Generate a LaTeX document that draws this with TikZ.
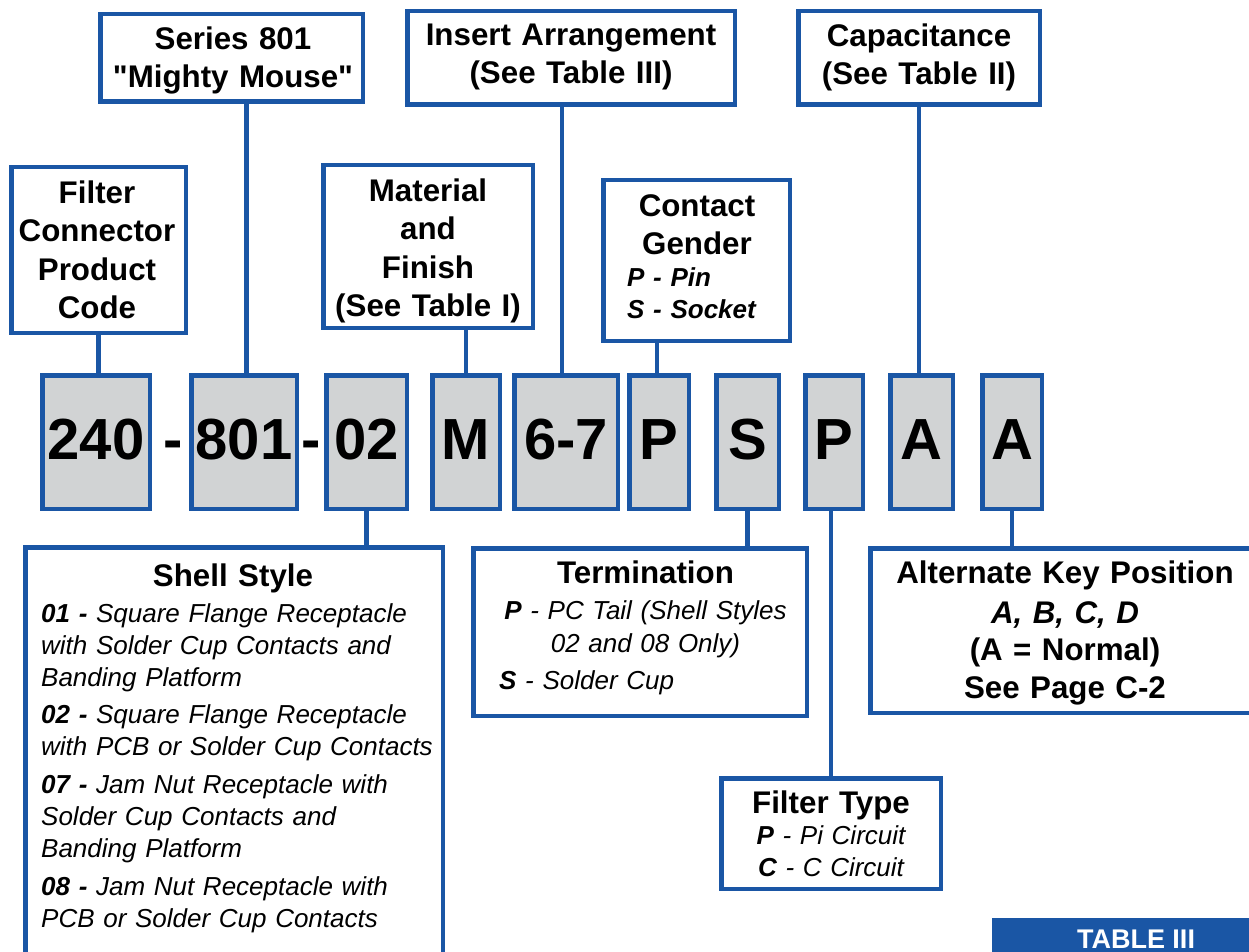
\documentclass[tikz,border=0pt]{standalone}
\usepackage{fontspec}
\setmainfont{Liberation Sans}
\newfontfamily\plainq{Liberation Sans}
\definecolor{myblue}{HTML}{1A56A5}
\definecolor{codegray}{HTML}{D1D3D4}
\begin{document}
\begin{tikzpicture}[x=1pt,y=-1pt,
  bbox/.style={draw=myblue, line width=4.5pt, fill=white, inner sep=0pt, outer sep=0pt},
  code/.style={draw=myblue, line width=4.5pt, fill=codegray, inner sep=0pt, outer sep=0pt,
    minimum height=133.5pt, font=\fontsize{58}{60}\selectfont\bfseries, text height=42pt, text depth=8pt},
  dashtxt/.style={inner sep=0pt, anchor=base, font=\fontsize{58}{60}\selectfont\bfseries},
  link/.style={draw=myblue, line width=4.5pt},
  ttl/.style={font=\fontsize{31.3}{38.5}\selectfont\bfseries, align=center, text width=420pt, inner sep=0pt, anchor=base},
  itm/.style={font=\fontsize{26}{32}\selectfont\itshape, align=left, text width=420pt, inner sep=0pt, anchor=base west},
  itmc/.style={font=\fontsize{26}{32}\selectfont\itshape, align=center, text width=420pt, inner sep=0pt, anchor=base},
]
\clip (0,0) rectangle (1249,952);
\fill[white] (0,0) rectangle (1249,952);

% ---- code boxes ----
\node[code, minimum width=107.5pt] (c240) at (96,442) {240};
\node[code, minimum width=105.5pt] (c801) at (244,442) {801};
\node[code, minimum width=80.5pt]  (c02)  at (366.5,442) {02};
\node[code, minimum width=67.5pt]  (cM)   at (466,442) {M};
\node[code, minimum width=103.5pt] (c67)  at (566,442) {6-7};
\node[code, minimum width=59.5pt]  (cP)   at (659,442) {P};
\node[code, minimum width=62.5pt]  (cS)   at (747.5,442) {S};
\node[code, minimum width=57.5pt]  (cP2)  at (834,442) {P};
\node[code, minimum width=62.5pt]  (cA)   at (921.5,442) {A};
\node[code, minimum width=59.5pt]  (cA2)  at (1012,442) {A};
\node[dashtxt] (d1) at (173.5,459) {-};
\node[dashtxt] (d2) at (311,459) {-};

% ---- top boxes ----
\node[bbox, minimum width=262.5pt, minimum height=87.5pt]  (series)   at (231.5,58) {};
\node[bbox, minimum width=327.5pt, minimum height=93.5pt]  (insert)   at (571,58) {};
\node[bbox, minimum width=241.5pt, minimum height=93.5pt]  (capac)    at (919,58) {};
\node[bbox, minimum width=174.5pt, minimum height=165.5pt] (product)  at (98.5,250) {};
\node[bbox, minimum width=209.5pt, minimum height=162.5pt] (material) at (428,246.5) {};
\node[bbox, minimum width=186.5pt, minimum height=160.5pt] (gender)   at (696.5,260.5) {};

\node[ttl] (seriesT) at (233,49.3) {Series 801\\{\plainq\bfseries "}Mighty Mouse{\plainq\bfseries "}};
\node[ttl] (insertT) at (571,45.3) {Insert Arrangement\\(See Table III)};
\node[ttl] (capacT) at (919,46.3) {Capacitance\\(See Table II)};
\node[ttl] (productT) at (97,203.3) {Filter\\Connector\\Product\\Code};
\node[ttl] (materialT) at (428,201.3) {Material\\and\\Finish\\(See Table I)};
\node[ttl, font=\fontsize{31.3}{38}\selectfont\bfseries] (genderT) at (697,216.3) {Contact\\Gender};
\node[itm, font=\fontsize{26}{32}\selectfont\bfseries\itshape] (genderI) at (627,286) {P - Pin\\S - Socket};

% ---- bottom boxes ----
\node[bbox, minimum width=417.5pt, minimum height=452.75pt] (shell) at (234,773.625) {};
\node[bbox, minimum width=333.5pt, minimum height=167.5pt] (term) at (640,632) {};
\node[bbox, minimum width=219.5pt, minimum height=110.5pt] (filter) at (831,833.5) {};
\node[bbox, minimum width=429.75pt, minimum height=164.5pt] (alt) at (1085.125,630.5) {};

\node[ttl] (shellT) at (233,586.3) {Shell Style};
\node[itm] (shellI) at (41,622.5) {%
{\bfseries 01 -} Square Flange Receptacle\\with Solder Cup Contacts and\\Banding Platform\\[5pt]
{\bfseries 02 -} Square Flange Receptacle\\with PCB or Solder Cup Contacts\\[6pt]
{\bfseries 07 -} Jam Nut Receptacle with\\Solder Cup Contacts and\\Banding Platform\\[6pt]
{\bfseries 08 -} Jam Nut Receptacle with\\PCB or Solder Cup Contacts};

\node[ttl] (termT) at (645.5,583.3) {Termination};
\node[itmc, font=\fontsize{26}{33}\selectfont\itshape] (termA) at (645.5,619.5) {{\bfseries P} - PC Tail (Shell Styles\\02 and 08 Only)};
\node[itm] (termB) at (499,689.5) {{\bfseries S} - Solder Cup};

\node[ttl] (filterT) at (831,813.3) {Filter Type};
\node[itmc] (filterI) at (831,844.5) {{\bfseries P} - Pi Circuit\\{\bfseries C} - C Circuit};

\node[ttl, font=\fontsize{31.3}{38}\selectfont\bfseries] (altT) at (1065,583.3) {Alternate Key Position\\[2pt]{\itshape A, B, C, D}\\[-1pt](A = Normal)\\See Page C-2};

% ---- table tag ----
\node[fill=myblue, inner sep=0pt, minimum width=270pt, minimum height=50pt, anchor=north west] (tbl) at (992,918) {};
\node[inner sep=0pt, anchor=base, text=white, font=\fontsize{27}{29}\selectfont\bfseries] (tblT) at (1136,948) {TABLE III};

% ---- connectors ----
\draw[link] (product.south) -- (product.south |- c240.north);
\draw[link] ([xshift=2.5pt]c801.north) -- ([xshift=2.5pt]c801.north |- series.south);
\draw[link] (cM.north) -- (cM.north |- material.south);
\draw[link] ([xshift=-4pt]c67.north) -- ([xshift=-4pt]c67.north |- insert.south);
\draw[link] ([xshift=-2pt]cP.north) -- ([xshift=-2pt]cP.north |- gender.south);
\draw[link] (capac.south) -- (capac.south |- cA.north);
\draw[link] (c02.south) -- (c02.south |- shell.north);
\draw[link] (cS.south) -- (cS.south |- term.north);
\draw[link] ([xshift=-3pt]cP2.south) -- ([xshift=-3pt]cP2.south |- filter.north);
\draw[link] (cA2.south) -- (cA2.south |- alt.north);
\end{tikzpicture}
\end{document}
